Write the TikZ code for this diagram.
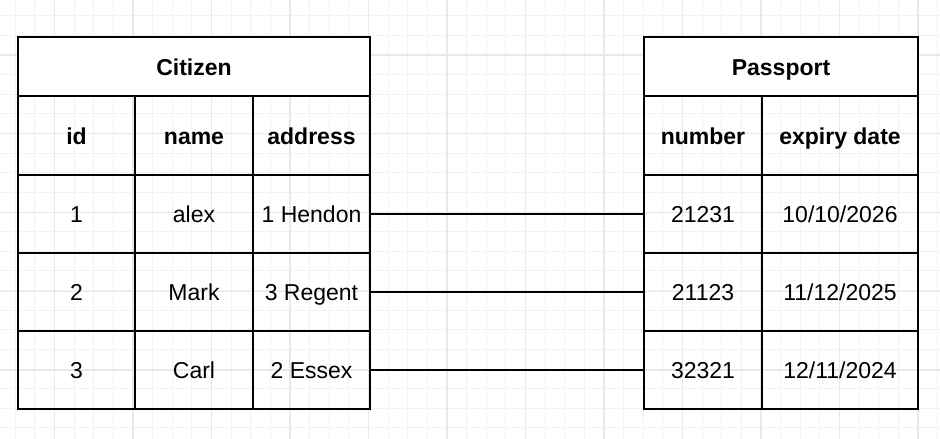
\documentclass[tikz,border=0pt]{standalone}
\usepackage{fontspec}
\setmainfont{Liberation Sans}
\begin{document}
\begin{tikzpicture}[x=1pt,y=-1pt,
  cell/.style={draw=black, line width=1.8pt, inner sep=0pt, text height=20pt, text depth=3pt, font=\fontsize{23}{27}\selectfont},
  headcell/.style={cell, fill=white, font=\fontsize{23}{27}\selectfont\bfseries},
  colhead/.style={cell, font=\fontsize{23}{27}\selectfont\bfseries},
  link/.style={draw=black, line width=1.8pt},
  minorgrid/.style={draw=black!5, line width=1pt},
  majorgrid/.style={draw=black!9, line width=1.2pt}]
\useasboundingbox (0,0) rectangle (940,439);
\fill[white] (0,0) rectangle (940,439);
% grid
\foreach \i in {-3,...,45}{
  \pgfmathsetmacro{\xx}{54.5+\i*19.625}
  \draw[minorgrid] (\xx,0) -- (\xx,439);
}
\foreach \j in {-3,...,20}{
  \pgfmathsetmacro{\yy}{55+\j*19.625}
  \draw[minorgrid] (0,\yy) -- (940,\yy);
}
\foreach \i in {0,...,11}{
  \pgfmathsetmacro{\xx}{54.5+\i*78.5}
  \draw[majorgrid] (\xx,0) -- (\xx,439);
}
\foreach \j in {0,...,4}{
  \pgfmathsetmacro{\yy}{55+\j*78.75}
  \draw[majorgrid] (0,\yy) -- (940,\yy);
}
% Citizen table
\node[headcell, minimum width=352pt, minimum height=59pt] (cit) at (194,66.5) {Citizen};
\node[colhead, minimum width=117pt, minimum height=79pt] (hid) at (76.5,135.5) {id};
\node[colhead, minimum width=118pt, minimum height=79pt] (hname) at (194,135.5) {name};
\node[colhead, minimum width=117pt, minimum height=79pt] (haddr) at (311.5,135.5) {address};
\node[cell, minimum width=117pt, minimum height=78pt] (id1) at (76.5,214) {1};
\node[cell, minimum width=118pt, minimum height=78pt] (name1) at (194,214) {alex};
\node[cell, minimum width=117pt, minimum height=78pt] (addr1) at (311.5,214) {1 Hendon};
\node[cell, minimum width=117pt, minimum height=78pt] (id2) at (76.5,292) {2};
\node[cell, minimum width=118pt, minimum height=78pt] (name2) at (194,292) {Mark};
\node[cell, minimum width=117pt, minimum height=78pt] (addr2) at (311.5,292) {3 Regent};
\node[cell, minimum width=117pt, minimum height=78pt] (id3) at (76.5,370) {3};
\node[cell, minimum width=118pt, minimum height=78pt] (name3) at (194,370) {Carl};
\node[cell, minimum width=117pt, minimum height=78pt] (addr3) at (311.5,370) {2 Essex};
% Passport table
\node[headcell, minimum width=274pt, minimum height=59pt] (pass) at (781,66.5) {Passport};
\node[colhead, minimum width=118pt, minimum height=79pt] (hnum) at (703,135.5) {number};
\node[colhead, minimum width=156pt, minimum height=79pt] (hexp) at (840,135.5) {expiry date};
\node[cell, minimum width=118pt, minimum height=78pt] (num1) at (703,214) {21231};
\node[cell, minimum width=156pt, minimum height=78pt] (exp1) at (840,214) {10/10/2026};
\node[cell, minimum width=118pt, minimum height=78pt] (num2) at (703,292) {21123};
\node[cell, minimum width=156pt, minimum height=78pt] (exp2) at (840,292) {11/12/2025};
\node[cell, minimum width=118pt, minimum height=78pt] (num3) at (703,370) {32321};
\node[cell, minimum width=156pt, minimum height=78pt] (exp3) at (840,370) {12/11/2024};
% connectors
\draw[link] (addr1.east) -- (num1.west);
\draw[link] (addr2.east) -- (num2.west);
\draw[link] (addr3.east) -- (num3.west);
\end{tikzpicture}
\end{document}
